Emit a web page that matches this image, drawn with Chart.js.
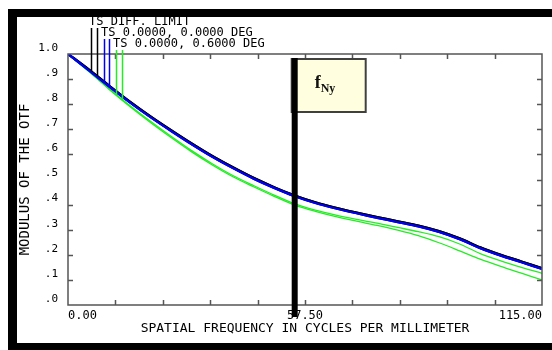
<!DOCTYPE html>
<html><head><meta charset="utf-8">
<script src="https://cdn.jsdelivr.net/npm/chart.js@4/dist/chart.umd.min.js"></script>
<style>html,body{margin:0;padding:0;background:#fff;}canvas{display:block;}</style>
</head><body>
<canvas id="c" width="552" height="350"></canvas>
<script>
// ---- data ----
const freq   = [0, 5, 10, 15, 20, 25, 30, 35, 40, 45, 50, 55, 60, 65, 70, 75, 80, 85, 90, 95, 100, 105, 110, 115];
const diffT  = [1.0, 0.938, 0.873, 0.810, 0.751, 0.696, 0.643, 0.593, 0.548, 0.506, 0.469, 0.436, 0.409, 0.387, 0.368, 0.350, 0.333, 0.316, 0.294, 0.265, 0.229, 0.199, 0.173, 0.146];
const diffS  = [1.0, 0.938, 0.873, 0.810, 0.751, 0.696, 0.643, 0.593, 0.548, 0.506, 0.469, 0.436, 0.409, 0.387, 0.368, 0.350, 0.333, 0.316, 0.294, 0.265, 0.229, 0.199, 0.173, 0.146];
const axisT  = [1.0, 0.935, 0.870, 0.807, 0.748, 0.693, 0.640, 0.590, 0.545, 0.503, 0.466, 0.433, 0.406, 0.384, 0.365, 0.347, 0.330, 0.313, 0.291, 0.262, 0.226, 0.196, 0.170, 0.143];
const axisS  = [1.0, 0.935, 0.870, 0.807, 0.748, 0.693, 0.640, 0.590, 0.545, 0.503, 0.466, 0.433, 0.406, 0.384, 0.365, 0.347, 0.330, 0.313, 0.291, 0.262, 0.226, 0.196, 0.170, 0.143];
const fieldT = [1.0, 0.932, 0.862, 0.795, 0.732, 0.672, 0.615, 0.563, 0.516, 0.476, 0.438, 0.403, 0.378, 0.358, 0.341, 0.326, 0.309, 0.292, 0.272, 0.243, 0.205, 0.176, 0.150, 0.126];
const fieldS = [1.0, 0.931, 0.859, 0.791, 0.727, 0.667, 0.610, 0.558, 0.511, 0.471, 0.433, 0.398, 0.373, 0.352, 0.334, 0.317, 0.298, 0.276, 0.248, 0.216, 0.183, 0.154, 0.127, 0.100];
const xTicks    = [0, 11.5, 23, 34.5, 46, 57.5, 69, 80.5, 92, 103.5, 115];
const xTickText = {0: '0.00', 57.5: '57.50', 115: '115.00'};
const yTicks    = [0, 0.1, 0.2, 0.3, 0.4, 0.5, 0.6, 0.7, 0.8, 0.9, 1.0];
const legendText = ['TS DIFF. LIMIT', 'TS 0.0000, 0.0000 DEG', 'TS 0.0000, 0.6000 DEG'];
const xTitle = 'SPATIAL FREQUENCY IN CYCLES PER MILLIMETER';
const yTitle = 'MODULUS OF THE OTF';
const nyquist = 55;
const nyText = ['f', 'Ny'];

const MONO = '"DejaVu Sans Mono", "Liberation Mono", monospace';
const toXY = arr => arr.map((v, i) => ({x: freq[i], y: v}));

const BLUE = '#0000ee', GREEN = '#22ee22', BLACK = '#000000';

const deco = {
  id: 'deco',
  afterDraw(chart) {
    const ctx = chart.ctx, ca = chart.chartArea;
    const xs = chart.scales.x, ys = chart.scales.y;
    ctx.save();
    // plot frame
    ctx.strokeStyle = '#555';
    ctx.lineWidth = 1.5;
    ctx.strokeRect(ca.left, ca.top, ca.right - ca.left, ca.bottom - ca.top);
    // inner ticks
    ctx.beginPath();
    xTicks.forEach((v, i) => {
      if (i === 0 || i === xTicks.length - 1) return;
      const px = Math.round(xs.getPixelForValue(v)) + 0.5;
      ctx.moveTo(px, ca.bottom); ctx.lineTo(px, ca.bottom - 5);
      ctx.moveTo(px, ca.top); ctx.lineTo(px, ca.top + 5);
    });
    yTicks.forEach((v, i) => {
      if (i === 0 || i === yTicks.length - 1) return;
      const py = Math.round(ys.getPixelForValue(v)) + 0.5;
      if (v !== 0.5) { ctx.moveTo(ca.left, py); ctx.lineTo(ca.left + 5, py); }
      ctx.moveTo(ca.right, py); ctx.lineTo(ca.right - 5, py);
    });
    ctx.stroke();

    // legend text
    ctx.fillStyle = '#000';
    ctx.font = '12px ' + MONO;
    ctx.textBaseline = 'alphabetic';
    ctx.textAlign = 'left';
    ctx.fillText(legendText[0], 89, 25);
    ctx.fillText(legendText[1], 101, 36);
    ctx.fillText(legendText[2], 113, 47);

    // legend leader lines down to curves
    const curveY = (di, px) => {
      const pts = chart.getDatasetMeta(di).data;
      for (let i = 0; i < pts.length - 1; i++) {
        if (pts[i].x <= px && pts[i + 1].x >= px) {
          const t = (px - pts[i].x) / (pts[i + 1].x - pts[i].x);
          return pts[i].y + t * (pts[i + 1].y - pts[i].y);
        }
      }
      return ca.bottom;
    };
    const leaders = [
      {ds: 4, x: 91, y0: 28, c: BLACK},
      {ds: 5, x: 97, y0: 28, c: BLACK},
      {ds: 0, x: 104, y0: 39, c: BLUE},
      {ds: 1, x: 109, y0: 39, c: BLUE},
      {ds: 2, x: 116, y0: 50, c: GREEN},
      {ds: 3, x: 122, y0: 50, c: GREEN}
    ];
    ctx.lineWidth = 1.5;
    leaders.forEach(l => {
      ctx.strokeStyle = l.c;
      ctx.beginPath();
      ctx.moveTo(l.x + 0.5, l.y0);
      ctx.lineTo(l.x + 0.5, curveY(l.ds, l.x));
      ctx.stroke();
    });

    // Nyquist marker
    const nx = xs.getPixelForValue(nyquist);
    const bx = nx - 3, by = ca.top + 5, bw = 74, bh = 53;
    ctx.fillStyle = '#ffffe0';
    ctx.fillRect(bx, by, bw, bh);
    ctx.strokeStyle = '#404040';
    ctx.lineWidth = 2;
    ctx.strokeRect(bx, by, bw, bh);
    ctx.fillStyle = '#000';
    ctx.fillRect(nx - 3, by - 1, 6, ca.bottom + 13 - by);
    ctx.fillStyle = '#111';
    ctx.font = 'bold 18px "Liberation Serif", "DejaVu Serif", serif';
    ctx.fillText(nyText[0], nx + 20, by + 29);
    ctx.font = 'bold 12px "Liberation Serif", "DejaVu Serif", serif';
    ctx.fillText(nyText[1], nx + 26, by + 33);

    // outer black frame
    ctx.fillStyle = '#000';
    ctx.fillRect(8, 9, 552 - 8, 8);
    ctx.fillRect(8, 9, 9, 350 - 9);
    ctx.fillRect(8, 343, 552 - 8, 7);
    ctx.restore();
  }
};

new Chart(document.getElementById('c'), {
  type: 'line',
  data: {
    datasets: [
      {label: 'TS 0.0000, 0.0000 DEG T', data: toXY(axisT), borderColor: BLUE, borderWidth: 2},
      {label: 'TS 0.0000, 0.0000 DEG S', data: toXY(axisS), borderColor: BLUE, borderWidth: 2},
      {label: 'TS 0.0000, 0.6000 DEG T', data: toXY(fieldT), borderColor: GREEN, borderWidth: 1.3},
      {label: 'TS 0.0000, 0.6000 DEG S', data: toXY(fieldS), borderColor: GREEN, borderWidth: 1.3},
      {label: 'TS DIFF. LIMIT T', data: toXY(diffT), borderColor: BLACK, borderWidth: 2.5},
      {label: 'TS DIFF. LIMIT S', data: toXY(diffS), borderColor: BLACK, borderWidth: 2.5}
    ]
  },
  options: {
    responsive: false,
    animation: false,
    devicePixelRatio: 1,
    layout: {padding: {left: 0, top: 54, right: 10, bottom: 0}},
    elements: {point: {radius: 0}, line: {tension: 0.3, fill: false}},
    plugins: {legend: {display: false}, tooltip: {enabled: false}, title: {display: false}},
    scales: {
      x: {
        type: 'linear', min: 0, max: 115,
        grid: {display: false, drawTicks: false, tickLength: 0}, border: {display: false},
        afterBuildTicks: s => { s.ticks = xTicks.map(v => ({value: v})); },
        afterFit: s => { s.height = 45; },
        ticks: {
          autoSkip: false, maxRotation: 0, align: 'inner', padding: 4,
          color: '#000', font: {family: MONO, size: 12},
          callback: v => xTickText[v] !== undefined ? xTickText[v] : ''
        },
        title: {display: true, text: xTitle, color: '#000', font: {family: MONO, size: 13}, padding: {top: 0, bottom: 14}}
      },
      y: {
        type: 'linear', min: 0, max: 1,
        grid: {display: false, drawTicks: false, tickLength: 0}, border: {display: false},
        afterBuildTicks: s => { s.ticks = yTicks.map(v => ({value: v})); },
        afterFit: s => { s.width = 68; },
        ticks: {
          padding: 10, labelOffset: -6, color: '#000', font: {family: MONO, size: 11},
          callback: v => v >= 0.999 ? '1.0' : '.' + Math.round(v * 10)
        },
        title: {display: true, text: yTitle, color: '#000', font: {family: MONO, size: 14}, padding: {top: 17, bottom: 0}}
      }
    }
  },
  plugins: [deco]
});
</script>
</body></html>
